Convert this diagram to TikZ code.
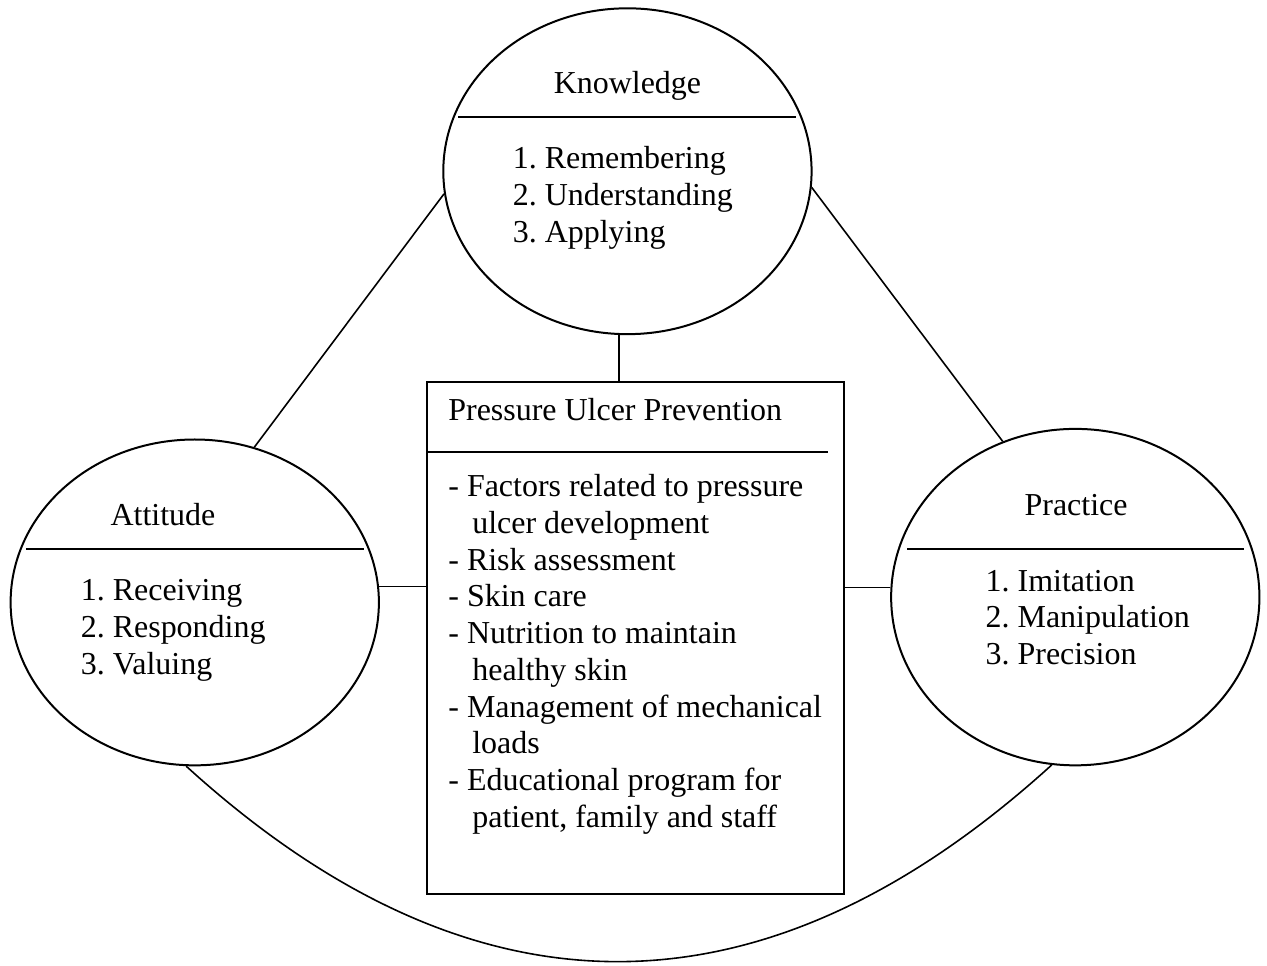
\documentclass[tikz,border=0pt]{standalone}
\usepackage{fontspec}
\setmainfont{Liberation Serif}
\usetikzlibrary{shapes.geometric}

\tikzset{
  area/.style={ellipse, draw, line width=0.75pt, minimum width=4.86cm,
    minimum height=4.3cm, inner sep=0pt},
  topicbox/.style={draw, line width=0.75pt, minimum width=5.5cm,
    minimum height=6.76cm, inner sep=0pt},
  divider/.style={line width=0.75pt},
  link/.style={line width=0.6pt},
  itemlist/.style={anchor=base west, align=left, inner sep=0pt},
  heading/.style={anchor=base, inner sep=0pt}
}

\begin{document}
\frenchspacing
\begin{tikzpicture}[font=\fontsize{12}{13.8}\selectfont]

    \useasboundingbox (0,0) rectangle (16.72,12.74);

    % Dominios
    \node[area] (know) at (8.28,10.48) {};
    \node[area] (att) at (2.57,4.79) {};
    \node[area, minimum height=4.44cm] (prac) at (14.19,4.86) {};

    % Knowledge (listas: base en la ultima linea)
    \node[heading] (knowtitle) at (8.28,11.51) {Knowledge};
    \draw[divider] (6.05,11.19) -- (10.51,11.19);
    \node[itemlist] (knowlist) at (6.76,9.54)
        {1. Remembering\\2. Understanding\\3. Applying};

    % Attitude
    \node[heading] (atttitle) at (2.15,5.81) {Attitude};
    \draw[divider] (0.34,5.49) -- (4.80,5.49);
    \node[itemlist] (attlist) at (1.06,3.84)
        {1. Receiving\\2. Responding\\3. Valuing};

    % Practice
    \node[heading] (practitle) at (14.20,5.94) {Practice};
    \draw[divider] (11.97,5.49) -- (16.42,5.49);
    \node[itemlist] (praclist) at (13.00,3.97)
        {1. Imitation\\2. Manipulation\\3. Precision};

    % Caja central
    \node[topicbox] (box) at (8.39,4.32) {};
    \node[itemlist] (boxtitle) at (5.91,7.19) {Pressure Ulcer Prevention};
    \draw[divider] (5.64,6.77) -- (10.92,6.77);
    \node[itemlist] (boxlist) at (5.91,1.82)
        {- Factors related to pressure\\
         \hspace*{0.75em}ulcer development\\
         - Risk assessment\\
         - Skin care\\
         - Nutrition to maintain\\
         \hspace*{0.75em}healthy skin\\
         - Management of mechanical\\
         \hspace*{0.75em}loads\\
         - Educational program for\\
         \hspace*{0.75em}patient, family and staff};

    % Conexiones
    \draw[link] (know.-93) -- (know.-93 |- box.north);
    \draw[link] (att.5) -- (att.5 -| box.west);
    \draw[link] (prac.177) -- (prac.177 -| box.east);
    \draw[link] (know.187) -- (att.69);
    \draw[link] (know.-5) -- (prac.115);
    \draw[link] (att.-93) .. controls +(3.79,-3.45) and +(-3.80,-3.45) .. (prac.-98);

\end{tikzpicture}
\end{document}
